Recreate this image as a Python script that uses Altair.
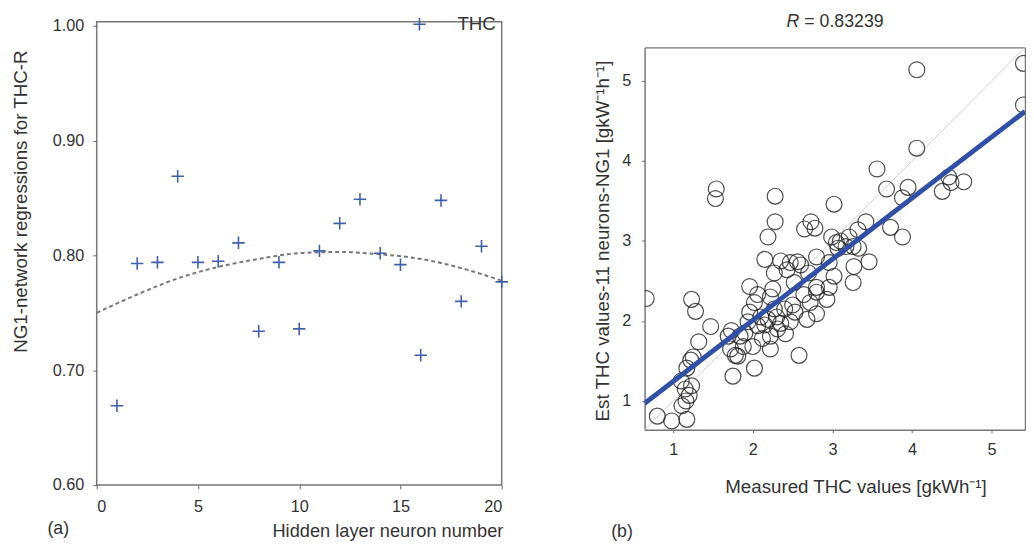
import altair as alt
import pandas as pd

# ---------- Panel (a) data ----------
neurons = list(range(1, 21))
thc_r = [0.669, 0.793, 0.794, 0.869, 0.794, 0.795, 0.811, 0.734, 0.794, 0.736,
         0.804, 0.828, 0.849, 0.802, 0.792, 0.713, 0.848, 0.760, 0.808, 0.777]
fit_x = [0, 2, 4, 6, 8, 10, 12, 14, 16, 18, 20]
fit_y = [0.750, 0.766, 0.780, 0.790, 0.797, 0.802, 0.803, 0.801, 0.797, 0.789, 0.778]

# ---------- Panel (b) data ----------
meas = [5.40, 5.40, 4.06, 4.06, 3.56, 3.68, 3.95, 3.88, 3.73, 3.88, 4.46, 4.38, 4.49, 4.65,
        1.54, 1.53, 2.28, 2.28, 2.19, 2.15, 3.02, 2.73, 2.78, 2.99, 3.21, 3.26, 3.33, 3.42,
        3.32, 3.46, 3.17, 3.07, 2.96, 3.27, 2.80, 2.47, 2.56, 2.43, 2.27, 3.02, 2.70, 2.52,
        2.80, 2.96, 3.26, 0.66, 1.23, 1.28, 1.47, 1.32, 1.22, 1.17, 1.23, 1.20, 1.16, 1.11,
        1.17, 0.98, 0.80, 1.25, 1.15, 1.10, 1.69, 1.72, 1.78, 1.75, 2.02, 1.96, 2.02, 1.94,
        1.84, 2.06, 2.19, 2.12, 2.22, 2.31, 2.41, 2.47, 2.27, 2.40, 2.53, 2.68, 2.80, 2.72,
        2.93, 2.80, 2.64, 2.58, 2.22, 2.00, 1.88, 1.81, 1.96, 2.06, 2.22, 1.73, 2.10, 2.15,
        2.30, 2.35, 1.90, 2.25, 2.50, 2.60, 2.35, 3.10, 3.05, 2.65]
est = [5.22, 4.70, 5.14, 4.16, 3.90, 3.65, 3.67, 3.54, 3.17, 3.05, 3.80, 3.62, 3.73, 3.74,
       3.65, 3.53, 3.56, 3.24, 3.05, 2.77, 3.46, 3.24, 3.16, 3.05, 3.05, 2.93, 2.91, 3.24,
       3.14, 2.74, 2.93, 2.91, 2.73, 2.68, 2.80, 2.73, 2.74, 2.64, 2.60, 2.56, 2.60, 2.48,
       2.42, 2.42, 2.48, 2.28, 2.27, 2.12, 1.93, 1.74, 1.51, 1.41, 1.19, 1.07, 1.00, 0.94,
       0.77, 0.75, 0.81, 1.55, 1.15, 1.25, 1.81, 1.65, 1.57, 1.31, 1.41, 2.11, 2.23, 1.99,
       1.81, 1.94, 2.02, 1.78, 1.81, 1.90, 1.84, 1.99, 2.15, 2.15, 2.11, 2.02, 2.09, 2.23,
       2.27, 2.36, 2.33, 1.57, 1.65, 1.68, 1.68, 1.56, 2.43, 2.33, 2.30, 1.88, 2.05, 1.95,
       2.05, 1.97, 1.85, 2.40, 2.20, 2.70, 2.75, 3.00, 2.98, 3.15]
fit_line_x = [0.64, 5.42]
fit_line_y = [0.97, 4.62]
diag_x = [0.64, 5.42]
diag_y = [0.64, 5.42]

FONT = "Liberation Sans"
TXT = "#333333"
FRAME = "#777777"
PLUS = "M-1,0H1M0,-1V1"

df_a = pd.DataFrame({"neurons": neurons, "r": thc_r, "series": ["THC"] * len(neurons)})
df_fit = pd.DataFrame({"x": fit_x, "y": fit_y})
df_b = pd.DataFrame({"meas": meas, "est": est})
df_line = pd.DataFrame({"x": fit_line_x, "y": fit_line_y})
df_diag = pd.DataFrame({"x": diag_x, "y": diag_y})

# ---------------- panel (a) ----------------
xa = alt.Scale(domain=[0, 20], nice=False, zero=False)
ya = alt.Scale(domain=[0.6, 1.0037], nice=False, zero=False)

left_pts = alt.Chart(df_a).mark_point(shape=PLUS, size=160, strokeWidth=1.6, filled=False, opacity=1).encode(
    x=alt.X("neurons:Q", scale=xa,
            axis=alt.Axis(values=[0, 5, 10, 15, 20], format="d", title="Hidden layer neuron number",
                          titleX=295, titleY=46, titleBaseline="middle", titleAlign="center",
                          titleFontSize=18.5, labelPadding=10)),
    y=alt.Y("r:Q", scale=ya,
            axis=alt.Axis(values=[0.6, 0.7, 0.8, 0.9, 1.0], format=".2f",
                          title="NG1-network regressions for THC-R", labelPadding=9,
                          titleX=-77, titleY=182, titleBaseline="middle", titleAlign="center")),
    color=alt.Color("series:N", scale=alt.Scale(domain=["THC"], range=["#3f5fb0"]),
                    legend=alt.Legend(orient="none", legendX=318, legendY=-7, title=None,
                                      symbolType=PLUS, symbolSize=160, symbolStrokeWidth=1.6,
                                      labelFontSize=19, labelOffset=29, labelColor=TXT,
                                      labelFont=FONT)),
)
left_fit = alt.Chart(df_fit).mark_line(color="#777777", strokeDash=[4, 3], strokeWidth=2,
                                       interpolate="monotone").encode(
    x=alt.X("x:Q", scale=xa), y=alt.Y("y:Q", scale=ya))
lab_a = alt.Chart(pd.DataFrame({"t": ["(a)"]})).mark_text(fontSize=18, color=TXT, font=FONT).encode(
    text="t:N", x=alt.value(-39), y=alt.value(515))

left = alt.layer(left_fit, left_pts, lab_a).properties(width=411, height=470)

# ---------------- panel (b) ----------------
# the group starts level with panel (a); its plot frame begins 26 px lower
xb = alt.Scale(domain=[0.64, 5.42], nice=False, zero=False)
yb = alt.Scale(domain=[0.64, 5.42], range=[414, 26], nice=False, zero=False)

frame_axis = dict(domain=True, domainColor=FRAME, domainWidth=1.5)

diag = alt.Chart(df_diag).mark_line(color="#cfcfcf", strokeWidth=1, clip=True).encode(
    x=alt.X("x:Q", scale=xb,
            axis=alt.Axis(values=[1, 2, 3, 4, 5], format="d", title="Measured THC values [gkWh\u207b\u00b9]",
                          titleX=214, titleY=58, titleBaseline="middle", titleAlign="center",
                          tickSize=3, labelPadding=9, **frame_axis)),
    y=alt.Y("y:Q", scale=yb,
            axis=alt.Axis(values=[1, 2, 3, 4, 5], format="d",
                          title="Est THC values-11 neurons-NG1 [gkW\u207b\u00b9h\u207b\u00b9]",
                          titleX=-43, titleY=222, titleBaseline="middle", titleAlign="center",
                          tickSize=3, labelPadding=11, **frame_axis)))
circles = alt.Chart(df_b).mark_point(shape="circle", size=260, filled=False, stroke="#222222",
                                     strokeWidth=1.2, opacity=0.8, clip=True).encode(
    x=alt.X("meas:Q", scale=xb,
            axis=alt.Axis(orient="top", values=[1, 2, 3, 4, 5], labels=False, ticks=False,
                          title=None, offset=-26, **frame_axis)),
    y=alt.Y("est:Q", scale=yb,
            axis=alt.Axis(orient="right", values=[1, 2, 3, 4, 5], labels=False, ticks=False,
                          title=None, **frame_axis)))
fitline = alt.Chart(df_line).mark_line(color="#2f4fa8", strokeWidth=5, clip=True).encode(
    x=alt.X("x:Q", scale=xb, axis=None), y=alt.Y("y:Q", scale=yb, axis=None))
r_it = alt.Chart(pd.DataFrame({"t": ["R"]})).mark_text(fontSize=18, fontStyle="italic", color=TXT,
                                                      font=FONT, align="left", baseline="middle").encode(
    text="t:N", x=alt.value(144), y=alt.value(0))
r_val = alt.Chart(pd.DataFrame({"t": ["= 0.83239"]})).mark_text(fontSize=18, color=TXT, font=FONT,
                                                                align="left", baseline="middle").encode(
    text="t:N", x=alt.value(162), y=alt.value(0))
lab_b = alt.Chart(pd.DataFrame({"t": ["(b)"]})).mark_text(fontSize=18, color=TXT, font=FONT).encode(
    text="t:N", x=alt.value(-23), y=alt.value(518))

right = alt.layer(diag, circles, fitline, r_it, r_val, lab_b).resolve_axis(
    x="independent", y="independent"
).properties(width=386, height=414, view=alt.ViewBackground(stroke="transparent"))

chart = alt.concat(left, right, columns=2, spacing=81).properties(
    align="none",
    padding={"left": 3, "top": 0, "right": 0, "bottom": 0}
).configure(font=FONT).configure_view(stroke=FRAME, strokeWidth=1.5).configure_axis(
    grid=False, domain=False, tickColor="#666666", tickSize=4, labelFontSize=16.5, labelColor=TXT,
    labelFont=FONT, titleFont=FONT, titleFontSize=19, titleFontWeight="normal", titleColor=TXT,
    labelPadding=4)

chart.save("out.html", embed_options={"renderer": "svg", "actions": False})
